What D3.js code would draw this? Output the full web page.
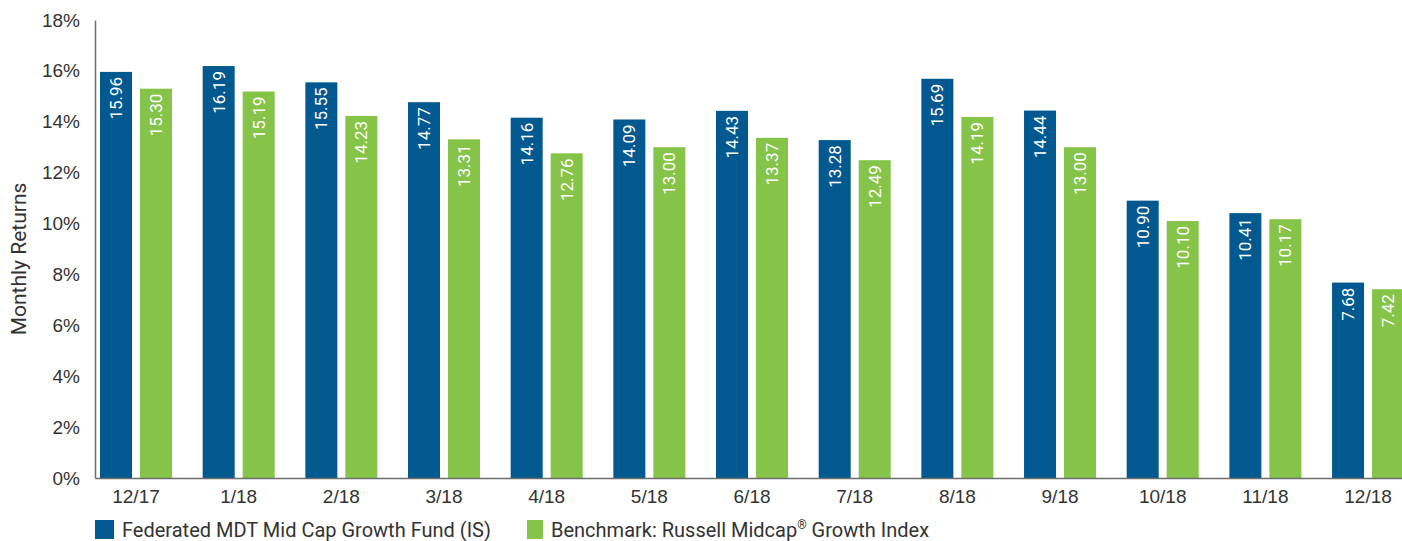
<!DOCTYPE html>
<html>
<head>
<meta charset="utf-8">
<script src="https://cdn.jsdelivr.net/npm/d3@7"></script>
<style>
  body { margin: 0; background: #fff; }
  svg { display: block; font-family: Roboto, "Liberation Sans", sans-serif; }
  .axis path { stroke: #6d6d6d; stroke-width: 1.5; }
  .axis text { fill: #333; font-size: 19px; }
</style>
</head>
<body>
<div id="chart"></div>
<script>
var months = ["12/17", "1/18", "2/18", "3/18", "4/18", "5/18", "6/18", "7/18", "8/18", "9/18", "10/18", "11/18", "12/18"];
var fundValues = [15.96, 16.19, 15.55, 14.77, 14.16, 14.09, 14.43, 13.28, 15.69, 14.44, 10.90, 10.41, 7.68];
var benchValues = [15.30, 15.19, 14.23, 13.31, 12.76, 13.00, 13.37, 12.49, 14.19, 13.00, 10.10, 10.17, 7.42];
var yTicks = [0, 2, 4, 6, 8, 10, 12, 14, 16, 18];
var seriesNames = ["Federated MDT Mid Cap Growth Fund (IS)", "Benchmark: Russell Midcap\u00AE Growth Index"];

function init() {
    var w = 1402;
    var h = 541;
    var left = 95;
    var top = 20;
    var bottom = 478;
    var bandW = 102.67;
    var colors = ["#02598f", "#86c349"];

    var svg = d3.select("#chart").append("svg").attr("width", w).attr("height", h);

    // scales
    var xScale = d3.scaleBand().domain(months).range([left, left + bandW * months.length]).paddingInner(0).paddingOuter(0);
    var sub = d3.scaleBand().domain([0, 1]).range([5, 77]).paddingInner(0.2);
    var yScale = d3.scaleLinear().domain([0, 18]).range([bottom, top]);

    var data = months.map(function (m, i) {
        return {month: m, values: [fundValues[i], benchValues[i]]};
    });

    var groups = svg.append("g").selectAll("g").data(data).enter().append("g")
        .attr("transform", function (d) { return "translate(" + xScale(d.month) + ",0)"; });

    var bars = groups.selectAll("g").data(function (d) { return d.values; }).enter().append("g");

    bars.append("rect")
        .attr("x", function (d, i) { return sub(i); })
        .attr("width", sub.bandwidth())
        .attr("y", function (d) { return yScale(d); })
        .attr("height", function (d) { return bottom - yScale(d); })
        .attr("fill", function (d, i) { return colors[i]; });

    // value labels, rotated, inside the top of each bar
    bars.append("text")
        .attr("transform", function (d, i) {
            return "translate(" + (sub(i) + sub.bandwidth() / 2) + "," + (yScale(d) + 5) + ") rotate(-90)";
        })
        .attr("dy", "0.35em")
        .attr("text-anchor", "end")
        .attr("fill", "#fff")
        .style("font-size", "17px")
        .text(function (d) { return d.toFixed(2); });

    // x axis
    var xAxis = d3.axisBottom(xScale).tickSize(0).tickPadding(10);
    var gx = svg.append("g").attr("class", "axis")
        .attr("transform", "translate(0," + bottom + ")")
        .call(xAxis);
    gx.selectAll(".tick").attr("transform", function (d) {
        return "translate(" + (xScale(d) + 41) + ",0)";
    });
    gx.selectAll("text").attr("dy", "0.8em");

    // y axis
    var yAxis = d3.axisLeft(yScale).tickValues(yTicks).tickSize(0).tickPadding(15)
        .tickFormat(function (d) { return d + "%"; });
    svg.append("g").attr("class", "axis")
        .attr("transform", "translate(" + left + ",0)")
        .call(yAxis);

    svg.append("text")
        .attr("transform", "translate(26," + ((top + bottom) / 2 + 10) + ") rotate(-90)")
        .attr("text-anchor", "middle")
        .attr("fill", "#333")
        .style("font-size", "21px")
        .text("Monthly Returns");

    // legend
    var legend = svg.append("g").attr("transform", "translate(95,520)");
    var leg0 = legend.append("g");
    leg0.append("rect").attr("width", 19).attr("height", 19).attr("fill", colors[0]);
    leg0.append("text").attr("x", 27).attr("y", 17).attr("fill", "#333").style("font-size", "20px").text(seriesNames[0]);

    var leg1 = legend.append("g").attr("transform", "translate(432,0)");
    leg1.append("rect").attr("width", 16).attr("height", 19).attr("fill", colors[1]);
    var t1 = leg1.append("text").attr("x", 24).attr("y", 17).attr("fill", "#333").style("font-size", "20px");
    t1.append("tspan").text("Benchmark: Russell Midcap");
    t1.append("tspan").attr("dy", -8).style("font-size", "12px").text("\u00AE");
    t1.append("tspan").attr("dy", 8).text(" Growth Index");
}
window.onload = init;
</script>
</body>
</html>
